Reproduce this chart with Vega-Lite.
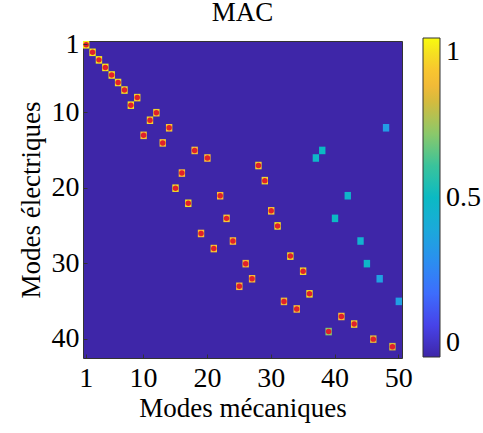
{
  "$schema": "https://vega.github.io/schema/vega-lite/v6.json",
  "width": 319,
  "height": 317,
  "autosize": {"type": "none"},
  "padding": {"left": 83, "top": 41, "right": 81, "bottom": 75},
  "background": "white",
  "config": {
    "view": {"fill": "#3e26a8", "stroke": "#333333", "strokeWidth": 1},
    "font": "Liberation Serif"
  },
  "title": {
    "text": "MAC",
    "font": "Liberation Serif",
    "fontSize": 27,
    "fontWeight": "normal",
    "color": "#000000",
    "offset": 3,
    "anchor": "middle"
  },
  "data": {
    "values": [
      {"mec": 1, "ele": 1, "mac": 0.98, "match": true},
      {"mec": 2, "ele": 2, "mac": 0.97, "match": true},
      {"mec": 3, "ele": 3, "mac": 0.97, "match": true},
      {"mec": 4, "ele": 4, "mac": 0.96, "match": true},
      {"mec": 5, "ele": 5, "mac": 0.96, "match": true},
      {"mec": 6, "ele": 6, "mac": 0.95, "match": true},
      {"mec": 7, "ele": 7, "mac": 0.95, "match": true},
      {"mec": 9, "ele": 8, "mac": 0.93, "match": true},
      {"mec": 8, "ele": 9, "mac": 0.96, "match": true},
      {"mec": 12, "ele": 10, "mac": 0.92, "match": true},
      {"mec": 11, "ele": 11, "mac": 0.93, "match": true},
      {"mec": 14, "ele": 12, "mac": 0.9, "match": true},
      {"mec": 10, "ele": 13, "mac": 0.9, "match": true},
      {"mec": 13, "ele": 14, "mac": 0.9, "match": true},
      {"mec": 18, "ele": 15, "mac": 0.88, "match": true},
      {"mec": 20, "ele": 16, "mac": 0.88, "match": true},
      {"mec": 28, "ele": 17, "mac": 0.92, "match": true},
      {"mec": 16, "ele": 18, "mac": 0.88, "match": true},
      {"mec": 29, "ele": 19, "mac": 0.93, "match": true},
      {"mec": 15, "ele": 20, "mac": 0.95, "match": true},
      {"mec": 22, "ele": 21, "mac": 0.88, "match": true},
      {"mec": 17, "ele": 22, "mac": 0.95, "match": true},
      {"mec": 30, "ele": 23, "mac": 0.9, "match": true},
      {"mec": 23, "ele": 24, "mac": 0.9, "match": true},
      {"mec": 31, "ele": 25, "mac": 0.96, "match": true},
      {"mec": 19, "ele": 26, "mac": 0.88, "match": true},
      {"mec": 24, "ele": 27, "mac": 0.88, "match": true},
      {"mec": 21, "ele": 28, "mac": 0.9, "match": true},
      {"mec": 33, "ele": 29, "mac": 0.95, "match": true},
      {"mec": 26, "ele": 30, "mac": 0.86, "match": true},
      {"mec": 35, "ele": 31, "mac": 0.93, "match": true},
      {"mec": 27, "ele": 32, "mac": 0.86, "match": true},
      {"mec": 25, "ele": 33, "mac": 0.86, "match": true},
      {"mec": 36, "ele": 34, "mac": 0.95, "match": true},
      {"mec": 32, "ele": 35, "mac": 0.85, "match": true},
      {"mec": 34, "ele": 36, "mac": 0.88, "match": true},
      {"mec": 41, "ele": 37, "mac": 0.88, "match": true},
      {"mec": 43, "ele": 38, "mac": 0.92, "match": true},
      {"mec": 39, "ele": 39, "mac": 0.7, "match": true},
      {"mec": 46, "ele": 40, "mac": 0.82, "match": true},
      {"mec": 49, "ele": 41, "mac": 0.8, "match": true},
      {"mec": 48, "ele": 12, "mac": 0.35, "match": false},
      {"mec": 38, "ele": 15, "mac": 0.5, "match": false},
      {"mec": 37, "ele": 16, "mac": 0.48, "match": false},
      {"mec": 42, "ele": 21, "mac": 0.47, "match": false},
      {"mec": 40, "ele": 24, "mac": 0.5, "match": false},
      {"mec": 44, "ele": 27, "mac": 0.45, "match": false},
      {"mec": 45, "ele": 30, "mac": 0.48, "match": false},
      {"mec": 47, "ele": 32, "mac": 0.37, "match": false},
      {"mec": 50, "ele": 35, "mac": 0.36, "match": false}
    ]
  },
  "encoding": {
    "x": {
      "field": "mec",
      "type": "ordinal",
      "scale": {
        "domain": [1,2,3,4,5,6,7,8,9,10,11,12,13,14,15,16,17,18,19,20,21,22,23,24,25,26,27,28,29,30,31,32,33,34,35,36,37,38,39,40,41,42,43,44,45,46,47,48,49,50],
        "paddingInner": 0,
        "paddingOuter": 0
      },
      "axis": {
        "values": [1, 10, 20, 30, 40, 50],
        "labelAngle": 0,
        "labelFont": "Liberation Serif",
        "labelFontSize": 28,
        "labelColor": "#000000",
        "labelPadding": 10,
        "tickSize": -4,
        "tickColor": "#333333",
        "domain": false,
        "grid": false,
        "title": "Modes mécaniques",
        "titleFont": "Liberation Serif",
        "titleFontSize": 27,
        "titleFontWeight": "normal",
        "titleColor": "#000000",
        "titlePadding": 3
      }
    },
    "y": {
      "field": "ele",
      "type": "ordinal",
      "scale": {
        "domain": [1,2,3,4,5,6,7,8,9,10,11,12,13,14,15,16,17,18,19,20,21,22,23,24,25,26,27,28,29,30,31,32,33,34,35,36,37,38,39,40,41,42],
        "paddingInner": 0,
        "paddingOuter": 0
      },
      "axis": {
        "values": [1, 10, 20, 30, 40],
        "labelFont": "Liberation Serif",
        "labelFontSize": 28,
        "labelColor": "#000000",
        "labelPadding": 8,
        "tickSize": -4,
        "tickColor": "#333333",
        "domain": false,
        "grid": false,
        "title": "Modes électriques",
        "titleFont": "Liberation Serif",
        "titleFontSize": 27,
        "titleFontWeight": "normal",
        "titleColor": "#000000",
        "titlePadding": 6
      }
    }
  },
  "layer": [
    {
      "mark": {"type": "rect"},
      "encoding": {
        "color": {
          "field": "mac",
          "type": "quantitative",
          "scale": {
            "domain": [0, 0.1, 0.2, 0.3, 0.4, 0.5, 0.6, 0.7, 0.8, 0.87, 0.93, 1],
            "range": ["#3e26a8", "#4743e9", "#3d6dfd", "#2b8ef0", "#1ba9da", "#0bbac3", "#3ac39b", "#8bc86a", "#d4bb3e", "#fcb934", "#f3d32a", "#f9fb0e"],
            "interpolate": "rgb"
          },
          "legend": {
            "orient": "none",
            "legendX": 340,
            "legendY": -3,
            "title": null,
            "direction": "vertical",
            "gradientLength": 319,
            "gradientThickness": 17,
            "gradientStrokeColor": "#333333",
            "gradientStrokeWidth": 1,
            "values": [0, 0.5, 1],
            "format": "~g",
            "labelFont": "Liberation Serif",
            "labelFontSize": 28,
            "labelColor": "#000000",
            "labelOffset": 6
          }
        }
      }
    },
    {
      "transform": [{"filter": "datum.match"}],
      "mark": {"type": "point", "shape": "circle", "filled": true, "size": 30, "color": "#e0202c", "opacity": 1},
      "encoding": {}
    }
  ]
}
